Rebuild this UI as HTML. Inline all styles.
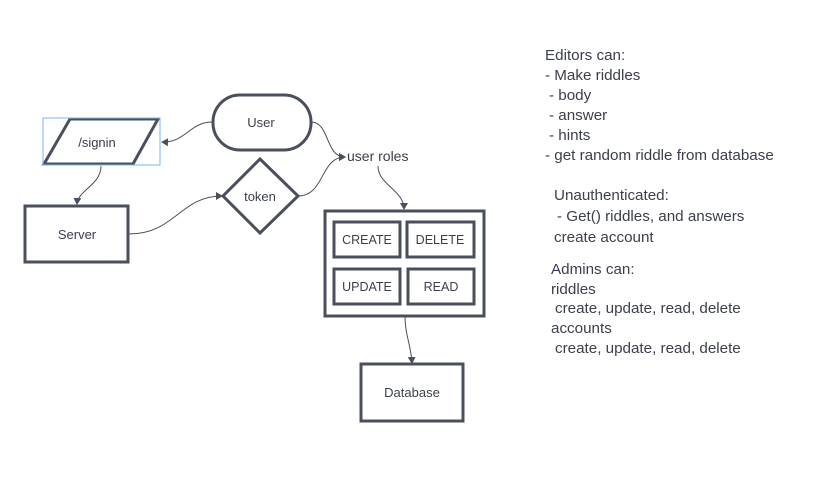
<!DOCTYPE html>
<html><head><style>
body{margin:0;background:#fff;}
svg text{font-family:"Liberation Sans",sans-serif;fill:#3a3f4b;}
</style></head><body>
<svg width="825" height="493" viewBox="0 0 825 493" xmlns="http://www.w3.org/2000/svg">
<defs><marker id="a" markerWidth="8" markerHeight="8" refX="6" refY="4" orient="auto" markerUnits="userSpaceOnUse"><path d="M0,0 L7,4 L0,8 z" fill="#4a4f5c"/></marker></defs>
<g fill="none" stroke="#4a4f5c" stroke-width="1" >
<path d="M212,122 C190,122 185,143 162,142" marker-end="url(#a)"/>
<path d="M101,166 C101,185 78,190 77,204" marker-end="url(#a)"/>
<path d="M129,234 C175,234 180,196 222,196" marker-end="url(#a)"/>
<path d="M311,122 C330,122 325,157 345,157" marker-end="url(#a)"/>
<path d="M298,196 C325,196 320,157 345,157" marker-end="url(#a)"/>
<path d="M378,166 C378,185 404,190 404,209" marker-end="url(#a)"/>
<path d="M405,316 C405,335 411,345 412,363" marker-end="url(#a)"/>
</g>
<g fill="#fff" stroke="#4a4f5c" stroke-width="3">
<rect x="213" y="95" width="98" height="55" rx="27"/>
<polygon points="70,119 158,119 133,164 44,164"/>
<rect x="25" y="206" width="103" height="56"/>
<polygon points="260,159 298,196 260,233 223,196"/>
<rect x="325" y="211" width="159" height="105"/>
<rect x="334" y="222" width="66" height="35"/>
<rect x="407" y="222" width="67" height="35"/>
<rect x="334" y="269" width="66" height="35"/>
<rect x="408" y="269" width="66" height="35"/>
<rect x="361" y="364" width="102" height="57"/>
</g>
<rect x="43" y="118" width="117" height="47" fill="none" stroke="#7ab4f0" stroke-width="1"/>
<g font-size="13" text-anchor="middle">
<text x="261" y="127">User</text>
<text x="97" y="147">/signin</text>
<text x="77" y="239">Server</text>
<text x="260" y="201">token</text>
<text x="367" y="244" font-size="12.5">CREATE</text>
<text x="440" y="244" font-size="12.5">DELETE</text>
<text x="367" y="291" font-size="12.5">UPDATE</text>
<text x="441" y="291" font-size="12.5">READ</text>
<text x="412" y="397">Database</text>
</g>
<text x="347" y="161" font-size="14">user roles</text>
<g font-size="15.2">
<text x="545" y="60">Editors can:</text>
<text x="545" y="80">- Make riddles</text>
<text x="549" y="100">- body</text>
<text x="549" y="120">- answer</text>
<text x="549" y="140">- hints</text>
<text x="545" y="160">- get random riddle from database</text>
<text x="554" y="200">Unauthenticated:</text>
<text x="557" y="221">- Get() riddles, and answers</text>
<text x="554" y="242">create account</text>
<text x="551" y="274">Admins can:</text>
<text x="551" y="294">riddles</text>
<text x="555" y="313">create, update, read, delete</text>
<text x="551" y="333">accounts</text>
<text x="555" y="353">create, update, read, delete</text>
</g>
</svg>
</body></html>
